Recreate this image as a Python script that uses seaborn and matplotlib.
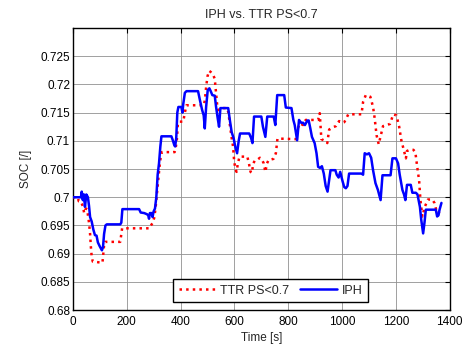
import numpy as np
import pandas as pd
import matplotlib
matplotlib.use("Agg")
import matplotlib.pyplot as plt
import seaborn as sns

# ---- data ----
iph_t = [0, 30, 33, 37, 41, 45, 50, 56, 60, 64, 70, 76, 82, 88, 93, 100, 108, 112, 116, 121, 126, 176, 180, 184,
         246, 252, 265, 275, 280, 283, 286, 292, 296, 300, 305, 310, 315, 320, 325, 329, 366, 372, 377, 380, 384,
         388, 392, 403, 407, 410, 416, 422, 465, 472, 480, 486, 490, 495, 501, 507, 512, 518, 527, 532, 538, 543,
         548, 577, 583, 590, 597, 603, 610, 616, 621, 655, 662, 667, 673, 700, 706, 715, 722, 746, 752, 759, 785,
         791, 812, 819, 824, 833, 840, 848, 855, 862, 871, 876, 882, 888, 898, 905, 911, 918, 925, 932, 939, 946,
         952, 957, 975, 980, 987, 993, 1002, 1008, 1014, 1020, 1026, 1072, 1078, 1084, 1092, 1100, 1108, 1115,
         1124, 1133, 1143, 1150, 1180, 1187, 1200, 1208, 1214, 1224, 1230, 1235, 1241, 1255, 1261, 1274, 1280,
         1289, 1294, 1301, 1306, 1311, 1348, 1353, 1358, 1362, 1369]
iph_soc = [0.7000, 0.7000, 0.7010, 0.6995, 0.7005, 0.6983, 0.7005, 0.7000, 0.6985, 0.6965, 0.6957, 0.6943, 0.6933,
           0.6932, 0.6920, 0.6913, 0.6906, 0.6912, 0.6935, 0.6950, 0.6952, 0.6952, 0.6955, 0.6979, 0.6979, 0.6973,
           0.6972, 0.6970, 0.6968, 0.6962, 0.6972, 0.6972, 0.6965, 0.6975, 0.6980, 0.7000, 0.7040, 0.7060, 0.7090,
           0.7108, 0.7108, 0.7100, 0.7092, 0.7090, 0.7105, 0.7150, 0.7160, 0.7160, 0.7150, 0.7165, 0.7185, 0.7188,
           0.7188, 0.7172, 0.7155, 0.7145, 0.7122, 0.7160, 0.7190, 0.7193, 0.7188, 0.7181, 0.7180, 0.7160, 0.7140,
           0.7125, 0.7158, 0.7158, 0.7137, 0.7115, 0.7105, 0.7090, 0.7078, 0.7100, 0.7113, 0.7113, 0.7105, 0.7096,
           0.7143, 0.7143, 0.7125, 0.7107, 0.7143, 0.7143, 0.7128, 0.7181, 0.7181, 0.7159, 0.7158, 0.7137, 0.7128,
           0.7101, 0.7137, 0.7132, 0.7132, 0.7128, 0.7136, 0.7136, 0.7122, 0.7107, 0.7096, 0.7078, 0.7054, 0.7052,
           0.7055, 0.7042, 0.7020, 0.7010, 0.7030, 0.7048, 0.7048, 0.7040, 0.7035, 0.7045, 0.7028, 0.7018, 0.7016,
           0.7020, 0.7042, 0.7042, 0.7040, 0.7078, 0.7076, 0.7078, 0.7070, 0.7048, 0.7025, 0.7013, 0.6995, 0.7039,
           0.7039, 0.7069, 0.7069, 0.7060, 0.7040, 0.7013, 0.7005, 0.6995, 0.7022, 0.7022, 0.7008, 0.7008, 0.7005,
           0.6983, 0.6960, 0.6936, 0.6955, 0.6978, 0.6978, 0.6966, 0.6968, 0.6978, 0.6990]

ttr_t = [0, 18, 22, 28, 32, 38, 42, 46, 50, 55, 60, 64, 67, 70, 74, 110, 113, 116, 119, 176, 180, 183, 285, 290,
         297, 303, 308, 313, 318, 322, 326, 330, 378, 382, 386, 390, 395, 410, 416, 422, 487, 491, 495, 500, 506,
         512, 520, 527, 532, 537, 540, 545, 572, 578, 584, 590, 595, 599, 603, 608, 613, 619, 648, 654, 660, 665,
         670, 676, 684, 695, 703, 709, 715, 721, 727, 745, 754, 760, 830, 833, 843, 855, 865, 911, 917, 923, 936,
         945, 952, 965, 977, 989, 1000, 1008, 1014, 1023, 1072, 1078, 1088, 1105, 1115, 1121, 1128, 1136, 1143,
         1152, 1167, 1178, 1190, 1202, 1212, 1220, 1229, 1237, 1241, 1250, 1265, 1272, 1279, 1286, 1291, 1298,
         1307, 1319, 1335, 1343, 1350, 1356, 1362]
ttr_soc = [0.7000, 0.7000, 0.6993, 0.6993, 0.6990, 0.6983, 0.6972, 0.6978, 0.6980, 0.6972, 0.6955, 0.6935, 0.6912,
           0.6895, 0.6886, 0.6884, 0.6900, 0.6915, 0.6921, 0.6921, 0.6935, 0.6945, 0.6945, 0.6950, 0.6955, 0.6965,
           0.6985, 0.7010, 0.7035, 0.7055, 0.7070, 0.7080, 0.7080, 0.7088, 0.7100, 0.7130, 0.7134, 0.7134, 0.7150,
           0.7163, 0.7163, 0.7175, 0.7195, 0.7214, 0.7224, 0.7222, 0.7218, 0.7210, 0.7184, 0.7160, 0.7143, 0.7158,
           0.7158, 0.7150, 0.7125, 0.7105, 0.7090, 0.7065, 0.7052, 0.7045, 0.7060, 0.7072, 0.7072, 0.7060, 0.7045,
           0.7043, 0.7060, 0.7065, 0.7066, 0.7070, 0.7066, 0.7060, 0.7045, 0.7060, 0.7066, 0.7068, 0.7078, 0.7104,
           0.7103, 0.7119, 0.7131, 0.7128, 0.7137, 0.7137, 0.7149, 0.7103, 0.7100, 0.7096, 0.7120, 0.7124, 0.7126,
           0.7135, 0.7132, 0.7133, 0.7138, 0.7147, 0.7147, 0.7169, 0.7181, 0.7178, 0.7160, 0.7140, 0.7110, 0.7094,
           0.7108, 0.7126, 0.7128, 0.7130, 0.7147, 0.7145, 0.7125, 0.7101, 0.7084, 0.7069, 0.7082, 0.7084, 0.7084,
           0.7080, 0.7054, 0.7030, 0.6995, 0.6966, 0.6983, 0.6996, 0.6996, 0.6990, 0.6977, 0.6972, 0.6975]

series_names = ["TTR PS<0.7", "IPH"]
x_ticks = [0, 200, 400, 600, 800, 1000, 1200, 1400]
y_ticks = [0.68, 0.685, 0.69, 0.695, 0.7, 0.705, 0.71, 0.715, 0.72, 0.725]
y_tick_labels = ["0.68", "0.685", "0.69", "0.695", "0.7", "0.705", "0.71", "0.715", "0.72", "0.725"]

sns.set_style("white")
plt.rcParams["font.family"] = ["Liberation Sans", "DejaVu Sans"]

fig = plt.figure(figsize=(4.70, 3.45), dpi=100)
ax = fig.add_axes([0.155, 0.101, 0.802, 0.818])

df_ttr = pd.DataFrame({"t": ttr_t, "soc": ttr_soc})
df_iph = pd.DataFrame({"t": iph_t, "soc": iph_soc})

sns.lineplot(data=df_ttr, x="t", y="soc", ax=ax, color="#ff0000", linestyle=":", linewidth=1.8,
             label=series_names[0], zorder=3)
sns.lineplot(data=df_iph, x="t", y="soc", ax=ax, color="#0000ff", linestyle="-", linewidth=1.8,
             label=series_names[1], zorder=4)

ax.set_xlim(0, 1400)
ax.set_ylim(0.68, 0.73)
ax.set_xticks(x_ticks)
ax.set_yticks(y_ticks)
ax.set_yticklabels(y_tick_labels)
ax.grid(True, color="#909090", linewidth=0.6, linestyle="-")
ax.set_axisbelow(True)
ax.tick_params(direction="in", length=3.5, width=0.8, top=True, right=True, labelsize=8.5,
               colors="black")
ax.tick_params(axis="x", pad=4)
ax.tick_params(axis="y", pad=2)
for s in ax.spines.values():
    s.set_color("black")
    s.set_linewidth(1.0)

ax.set_xlabel("Time [s]", fontsize=8.5, labelpad=3)
ax.set_ylabel("SOC [/]", fontsize=8.5, labelpad=6)
ax.set_title("IPH vs. TTR PS<0.7", fontsize=9, pad=7)

leg = ax.legend(loc="lower center", bbox_to_anchor=(0.524, 0.028), ncol=2, fontsize=9,
                frameon=True, fancybox=False, edgecolor="black", framealpha=1,
                handlelength=3.0, columnspacing=0.8, handletextpad=0.35,
                borderpad=0.45, borderaxespad=0)
leg.get_frame().set_linewidth(1.0)

fig.savefig("out.png", dpi=100)
